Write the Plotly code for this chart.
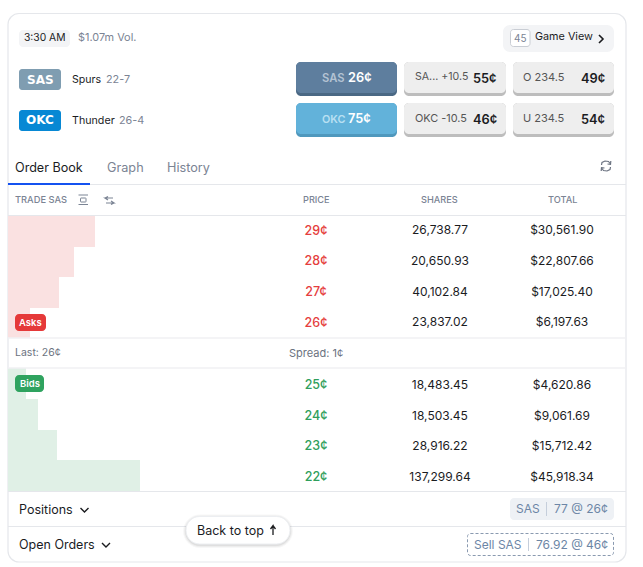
"""Order book card for the SAS / OKC game, laid out in page pixels."""
import plotly.graph_objects as go

W, H = 643, 567
FONT = "Inter, Noto Sans, sans-serif"

# 表格資料
ASK_PRICES = ["29¢", "28¢", "27¢", "26¢"]
ASK_SHARES = ["26,738.77", "20,650.93", "40,102.84", "23,837.02"]
ASK_TOTALS = ["$30,561.90", "$22,807.66", "$17,025.40", "$6,197.63"]
ASK_DEPTH = [87, 66, 51, 22]

BID_PRICES = ["25¢", "24¢", "23¢", "22¢"]
BID_SHARES = ["18,483.45", "18,503.45", "28,916.22", "137,299.64"]
BID_TOTALS = ["$4,620.86", "$9,061.69", "$15,712.42", "$45,918.34"]
BID_DEPTH = [18, 30, 49, 132]

# colours
INK = "#1b1c1f"
MUTED = "#7b8494"
LINE = "#e5e7eb"
RED = "#e53e3e"
GREEN = "#2f9e5c"
ASK_FILL = "#fae1e1"
BID_FILL = "#e0f0e6"
SOFT = "#f3f4f6"
STEEL = "#6c86a6"

LEFT = 8
COL_PRICE, COL_SHARES, COL_TOTAL = 316, 440, 562


def px(x):
    return x / W


def py(y):
    return 1 - y / H


shapes = []
annotations = []


def rrect(x0, y0, x1, y1, r, fill, line=None, width=1, dash=None, layer="below"):
    k = r * 0.45
    path = (
        f"M{px(x0 + r)},{py(y0)} L{px(x1 - r)},{py(y0)} "
        f"C{px(x1 - k)},{py(y0)} {px(x1)},{py(y0 + k)} {px(x1)},{py(y0 + r)} "
        f"L{px(x1)},{py(y1 - r)} "
        f"C{px(x1)},{py(y1 - k)} {px(x1 - k)},{py(y1)} {px(x1 - r)},{py(y1)} "
        f"L{px(x0 + r)},{py(y1)} "
        f"C{px(x0 + k)},{py(y1)} {px(x0)},{py(y1 - k)} {px(x0)},{py(y1 - r)} "
        f"L{px(x0)},{py(y0 + r)} "
        f"C{px(x0)},{py(y0 + k)} {px(x0 + k)},{py(y0)} {px(x0 + r)},{py(y0)} Z"
    )
    shapes.append(dict(
        type="path", xref="paper", yref="paper", path=path, fillcolor=fill, layer=layer,
        line=dict(color=line or "rgba(0,0,0,0)", width=width if line else 0, dash=dash or "solid"),
    ))


def polyline(points, color, width=1.3, layer="below"):
    path = "M" + " L".join(f"{px(x)},{py(y)}" for x, y in points)
    shapes.append(dict(type="path", xref="paper", yref="paper", path=path, layer=layer,
                       line=dict(color=color, width=width)))


def hline(y, x0=LEFT, x1=626, color=LINE, width=1, layer="below"):
    shapes.append(dict(type="line", xref="paper", yref="paper", layer=layer,
                       x0=px(x0), x1=px(x1), y0=py(y), y1=py(y), line=dict(color=color, width=width)))


def vline(x, y0, y1, color="#c5cedb"):
    shapes.append(dict(type="line", xref="paper", yref="paper", layer="below",
                       x0=px(x), x1=px(x), y0=py(y0), y1=py(y1), line=dict(color=color, width=1)))


def label(x, y, text, size=12, color=INK, anchor="left", weight=400, family=FONT):
    annotations.append(dict(
        xref="paper", yref="paper", x=px(x), y=py(y), text=text, showarrow=False,
        xanchor=anchor, yanchor="middle", borderpad=0, borderwidth=0,
        font=dict(family=family, size=size, color=color, weight=weight),
    ))


def chevron_down(x, y):
    polyline([(x - 4, y - 2), (x, y + 2), (x + 4, y - 2)], INK, 1.4)


def button(x0, y0, x1, y1, face, edge):
    rrect(x0, y0, x1, y1, 5, edge)
    rrect(x0, y0, x1, y1 - 3, 5, face)


# card
rrect(LEFT, 13.5, 626, 562, 11, "#ffffff", LINE, 1.2)

# header row
rrect(19, 30, 70, 47, 4, SOFT)
label(24, 37, "3:30 AM", 10.3)
label(78, 37, "$1.07m Vol.", 10.9, MUTED)
rrect(503, 25, 614, 52, 7, SOFT)
rrect(510.5, 29.5, 530, 46.5, 3, "#ffffff", "#c9cdd4", 1)
label(520.2, 38, "45", 10, MUTED, "center")
label(535, 37, "Game View", 10.8)
polyline([(599, 35), (603, 39), (599, 43)], INK, 1.6)

# teams
rrect(19, 69, 61, 90, 3, "#7f9db1")
label(40, 79.5, "SAS", 12, "#ffffff", "center", 700, "DejaVu Sans")
rrect(19, 110, 61, 131, 3, "#0788d4")
label(40, 120.5, "OKC", 12, "#ffffff", "center", 700, "DejaVu Sans")
label(72, 79, "Spurs", 10.6)
label(106, 79, "22-7", 10.8, MUTED)
label(72, 120, "Thunder", 10.7)
label(118.5, 120, "26-4", 10.8, MUTED)

# market buttons
button(296, 62, 397, 96, "#5e7e9e", "#4a6884")
button(296, 103, 397, 137, "#62b2da", "#4f98bd")
for x0, x1 in ((404, 506), (513, 614)):
    button(x0, 62, x1, 96, "#eeeeee", "#bdbdbd")
    button(x0, 103, x1, 137, "#eeeeee", "#bdbdbd")
label(322, 78, "SAS", 11.2, "#b4c3d3", weight=600)
label(347.5, 77.5, "26¢", 12.8, "#ffffff", weight=600)
label(322, 119, "OKC", 10.8, "#b9e0f2", weight=600)
label(348, 118.5, "75¢", 12.8, "#ffffff", weight=600)
label(415, 77, "SA... +10.5", 10.6, "#555555")
label(472.5, 78.5, "55¢", 12.8, INK, weight=600)
label(415, 118, "OKC -10.5", 10.9, "#555555")
label(472.5, 119.5, "46¢", 12.8, INK, weight=600)
label(523, 77, "O 234.5", 11, "#555555")
label(581, 78.5, "49¢", 12.8, INK, weight=600)
label(523, 118, "U 234.5", 11, "#555555")
label(581, 119.5, "54¢", 12.8, INK, weight=600)

# tabs
label(15, 167, "Order Book", 12.6, INK)
label(107, 167, "Graph", 12.7, MUTED)
label(167, 167, "History", 12.7, MUTED)
hline(184.5)
shapes.append(dict(type="rect", xref="paper", yref="paper", x0=px(8), x1=px(90), y0=py(183), y1=py(185),
                   fillcolor="#1452f0", line=dict(width=0), layer="below"))
# refresh icon
polyline([(601.5, 165), (602, 162.5), (605, 161), (608.5, 161.5), (610.5, 164)], "#6b7280", 1.2)
polyline([(610.5, 167), (610, 169.5), (607, 171), (603.5, 170.5), (601.5, 168)], "#6b7280", 1.2)
polyline([(610.8, 161), (610.5, 164.3), (607.5, 164)], "#6b7280", 1.2)
polyline([(601.2, 171), (601.5, 167.7), (604.5, 168)], "#6b7280", 1.2)

# column headers
label(15, 199.5, "TRADE SAS", 9.3, MUTED, weight=500)
hline(195, 78.5, 88, MUTED, 1)
hline(204.5, 78.5, 88, MUTED, 1)
rrect(80.5, 198, 86, 202, 0.5, "#ffffff", MUTED, 1)
polyline([(108, 196.5), (105, 198), (108, 200), (105, 198), (113, 198)], MUTED, 1.2)
polyline([(111, 204.5), (114, 203), (111, 201), (114, 203), (106, 203)], MUTED, 1.2)
label(COL_PRICE, 199.5, "PRICE", 9.2, MUTED, "center", 500)
label(COL_SHARES, 199.5, "SHARES", 9.2, MUTED, "center", 500)
label(COL_TOTAL, 199.5, "TOTAL", 9.2, MUTED, "center", 500)
hline(215.5)

# middle strip
hline(338, color="#f0f1f3", width=1.6, layer="above")
hline(368, color="#f0f1f3", width=1.6, layer="above")
label(15, 352.5, "Last: 26¢", 10.5, "#6b7280")
label(289, 352.5, "Spread: 1¢", 11, "#6b7280")

# side badges
rrect(15, 314, 46, 331, 4, "#e53939", layer="above")
label(30.5, 322, "Asks", 9.5, "#ffffff", "center", 600)
rrect(15, 375, 44, 392, 4, "#2fa35f", layer="above")
label(29.5, 383.5, "Bids", 9.5, "#ffffff", "center", 600)

# footer rows
hline(491.5)
hline(526.5)
label(19, 509.5, "Positions", 12.5)
chevron_down(84.5, 510)
label(19, 544.5, "Open Orders", 12.5)
chevron_down(106, 545)
rrect(510, 498, 614, 520, 4, "#eef1f5")
label(516, 508.5, "SAS", 12, STEEL)
vline(546.5, 502, 516)
label(554, 508.5, "77 @ 26¢", 12, STEEL)
rrect(467.5, 533.5, 613.5, 555.5, 3, "#ffffff", "#8a9ab0", 1, "3px,2px")
label(474, 544, "Sell SAS", 12, STEEL)
vline(528.5, 538, 551)
label(536, 544, "76.92 @ 46¢", 12, STEEL)

# back to top pill
for grow, alpha in ((3, 0.03), (2, 0.04), (1, 0.06)):
    rrect(186 - grow, 516.5 - grow + 1, 290 + grow, 544 + grow + 1, 14 + grow, f"rgba(0,0,0,{alpha})", layer="above")
rrect(186, 516.5, 290, 544, 13.5, "#ffffff", "#eceef1", 1, layer="above")
label(197, 530, "Back to top", 12.5, INK)
polyline([(273, 535), (273, 526), (270.5, 529), (273, 525.5), (275.5, 529)], INK, 1.3, layer="above")

fig = go.Figure()


def add_side(prices, depth, shares, totals, fill, price_color, bar_axis, text_axis):
    fig.add_trace(go.Bar(
        y=prices, x=depth, orientation="h", marker=dict(color=fill, line=dict(width=0)),
        xaxis="x", yaxis=bar_axis, hoverinfo="skip",
    ))
    columns = (
        (COL_PRICE, prices, dict(color=price_color, size=12.5, family=FONT, weight=500)),
        (COL_SHARES, shares, dict(color=INK, size=12, family=FONT)),
        (COL_TOTAL, totals, dict(color=INK, size=12, family=FONT)),
    )
    for col_x, texts, font in columns:
        fig.add_trace(go.Scatter(
            x=[col_x - LEFT] * len(prices), y=prices, text=texts, mode="text",
            textposition="middle center", textfont=font, xaxis="x", yaxis=text_axis, hoverinfo="skip",
        ))


add_side(ASK_PRICES, ASK_DEPTH, ASK_SHARES, ASK_TOTALS, ASK_FILL, RED, "y", "y3")
add_side(BID_PRICES, BID_DEPTH, BID_SHARES, BID_TOTALS, BID_FILL, GREEN, "y2", "y4")


def price_axis(prices, top, bottom):
    return dict(domain=[py(bottom), py(top)], type="category", categoryorder="array",
                categoryarray=prices[::-1], range=[-0.5, 3.5], visible=False, fixedrange=True,
                anchor="x")


fig.update_layout(
    width=W, height=H,
    margin=dict(l=0, r=0, t=0, b=0),
    paper_bgcolor="#ffffff", plot_bgcolor="rgba(0,0,0,0)",
    showlegend=False,
    bargap=0,
    font=dict(family=FONT),
    shapes=shapes,
    annotations=annotations,
    xaxis=dict(domain=[px(LEFT), 1], range=[0, W - LEFT], visible=False, fixedrange=True),
    yaxis=price_axis(ASK_PRICES, 215.5, 338),
    yaxis2=price_axis(BID_PRICES, 368, 491),
    # 文字列比色塊略低一點
    yaxis3=price_axis(ASK_PRICES, 216.2, 338.7),
    yaxis4=price_axis(BID_PRICES, 370.5, 493.5),
)

fig.write_html("out.html", config={"displayModeBar": False},
               post_script="document.body.style.margin='0';")
